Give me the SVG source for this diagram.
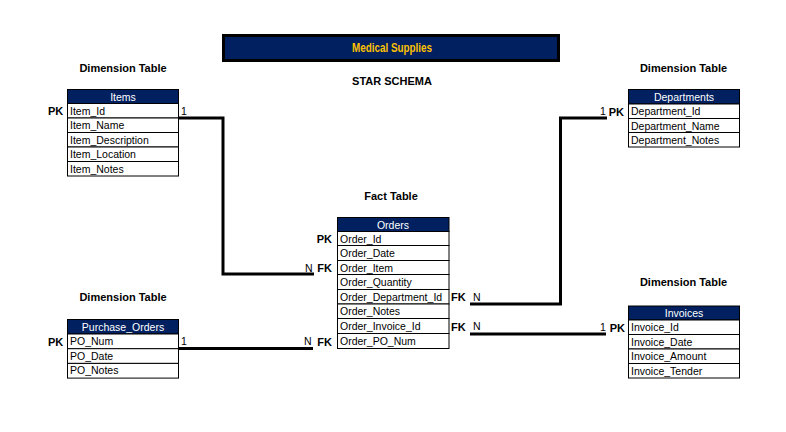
<svg xmlns="http://www.w3.org/2000/svg" width="786" height="432" viewBox="0 0 786 432">
<style>
.bg{fill:#ffffff}
.hdr{fill:#002060;stroke:#000;stroke-width:1}
.cell{fill:#ffffff;stroke:#000;stroke-width:1}
.ht{font-family:"Liberation Sans",Arial,sans-serif;font-size:10.5px;fill:#ffffff;text-anchor:middle}
.ct{font-family:"Liberation Sans",Arial,sans-serif;font-size:10.5px;fill:#000}
.lbl{font-family:"Liberation Sans",Arial,sans-serif;font-size:11px;font-weight:bold;fill:#000}
.n{font-family:"Liberation Sans",Arial,sans-serif;font-size:10.5px;fill:#000}
.cap{font-family:"Liberation Sans",Arial,sans-serif;font-size:11px;font-weight:bold;fill:#000;text-anchor:middle}
.conn{fill:none;stroke:#000;stroke-width:3}
</style>
<rect class="bg" x="0" y="0" width="786" height="432"/>

<g id="title">
<rect x="223.5" y="35.5" width="335" height="25" fill="#002060" stroke="#000" stroke-width="3"/>
<text x="392" y="52" font-family="'Liberation Sans',Arial,sans-serif" font-size="12.5" font-weight="bold" fill="#FFC000" text-anchor="middle" textLength="80" lengthAdjust="spacingAndGlyphs">Medical Supplies</text>
</g>
<text class="cap" x="392" y="85">STAR SCHEMA</text>
<text class="cap" x="123" y="72">Dimension Table</text>
<text class="cap" x="683.5" y="72">Dimension Table</text>
<text class="cap" x="391" y="200">Fact Table</text>
<text class="cap" x="123" y="301">Dimension Table</text>
<text class="cap" x="683.5" y="286">Dimension Table</text>

<g id="connectors">
<path class="conn" d="M178 118 H223 V274 H314"/>
<path class="conn" d="M470 304 H560.5 V118 H607"/>
<path class="conn" d="M470 334 H606"/>
<path class="conn" d="M178 348.5 H313"/>
</g>

<g id="items">
<rect class="hdr" x="67.5" y="89.5" width="111" height="14"/>
<text class="ht" x="123" y="100.5">Items</text>
<rect class="cell" x="67.5" y="103.5" width="111" height="14.5"/>
<rect class="cell" x="67.5" y="118" width="111" height="14.5"/>
<rect class="cell" x="67.5" y="132.5" width="111" height="14.5"/>
<rect class="cell" x="67.5" y="147" width="111" height="14.5"/>
<rect class="cell" x="67.5" y="161.5" width="111" height="14.5"/>
<text class="ct" x="70" y="114.5">Item_Id</text>
<text class="ct" x="70" y="129">Item_Name</text>
<text class="ct" x="70" y="143.5">Item_Description</text>
<text class="ct" x="70" y="158">Item_Location</text>
<text class="ct" x="70" y="172.5">Item_Notes</text>
<text class="lbl" x="48" y="115">PK</text>
<text class="n" x="181" y="114.5">1</text>
</g>

<g id="orders">
<rect class="hdr" x="337.5" y="217.5" width="111.5" height="14"/>
<text class="ht" x="393" y="228.5">Orders</text>
<rect class="cell" x="337.5" y="231.5" width="111.5" height="14"/>
<rect class="cell" x="337.5" y="245.5" width="111.5" height="15"/>
<rect class="cell" x="337.5" y="260.5" width="111.5" height="14"/>
<rect class="cell" x="337.5" y="274.5" width="111.5" height="15"/>
<rect class="cell" x="337.5" y="289.5" width="111.5" height="14.5"/>
<rect class="cell" x="337.5" y="304" width="111.5" height="14.5"/>
<rect class="cell" x="337.5" y="318.5" width="111.5" height="15"/>
<rect class="cell" x="337.5" y="333.5" width="111.5" height="15"/>
<text class="ct" x="340" y="242.5">Order_Id</text>
<text class="ct" x="340" y="257">Order_Date</text>
<text class="ct" x="340" y="271.5">Order_Item</text>
<text class="ct" x="340" y="286">Order_Quantity</text>
<text class="ct" x="340" y="300.5">Order_Department_Id</text>
<text class="ct" x="340" y="315">Order_Notes</text>
<text class="ct" x="340" y="330">Order_Invoice_Id</text>
<text class="ct" x="340" y="345">Order_PO_Num</text>
<text class="lbl" x="332" y="243" text-anchor="end">PK</text>
<text class="lbl" x="332" y="272" text-anchor="end">FK</text>
<text class="n" x="305" y="271.5">N</text>
<text class="lbl" x="332" y="345.5" text-anchor="end">FK</text>
<text class="n" x="304" y="345">N</text>
<text class="lbl" x="451" y="301">FK</text>
<text class="n" x="473" y="300.5">N</text>
<text class="lbl" x="451" y="330.5">FK</text>
<text class="n" x="473" y="330">N</text>
</g>

<g id="departments">
<rect class="hdr" x="628.5" y="89.5" width="111" height="14.5"/>
<text class="ht" x="684" y="100.5">Departments</text>
<rect class="cell" x="628.5" y="104" width="111" height="14.5"/>
<rect class="cell" x="628.5" y="118.5" width="111" height="14"/>
<rect class="cell" x="628.5" y="132.5" width="111" height="14.5"/>
<text class="ct" x="631" y="115">Department_Id</text>
<text class="ct" x="631" y="129.5">Department_Name</text>
<text class="ct" x="631" y="143.5">Department_Notes</text>
<text class="lbl" x="624" y="115.5" text-anchor="end">PK</text>
<text class="n" x="600" y="115">1</text>
</g>

<g id="invoices">
<rect class="hdr" x="628.5" y="306" width="111" height="14"/>
<text class="ht" x="684" y="317">Invoices</text>
<rect class="cell" x="628.5" y="320" width="111" height="14.5"/>
<rect class="cell" x="628.5" y="334.5" width="111" height="14.5"/>
<rect class="cell" x="628.5" y="349" width="111" height="14.5"/>
<rect class="cell" x="628.5" y="363.5" width="111" height="14.5"/>
<text class="ct" x="631" y="331">Invoice_Id</text>
<text class="ct" x="631" y="345.5">Invoice_Date</text>
<text class="ct" x="631" y="360">Invoice_Amount</text>
<text class="ct" x="631" y="374.5">Invoice_Tender</text>
<text class="lbl" x="625" y="331.5" text-anchor="end">PK</text>
<text class="n" x="600" y="331">1</text>
</g>

<g id="purchase_orders">
<rect class="hdr" x="67.5" y="319.5" width="111" height="14.5"/>
<text class="ht" x="123" y="330.5">Purchase_Orders</text>
<rect class="cell" x="67.5" y="334" width="111" height="14.7"/>
<rect class="cell" x="67.5" y="348.7" width="111" height="14.7"/>
<rect class="cell" x="67.5" y="363.4" width="111" height="14.7"/>
<text class="ct" x="70" y="345">PO_Num</text>
<text class="ct" x="70" y="359.7">PO_Date</text>
<text class="ct" x="70" y="374.4">PO_Notes</text>
<text class="lbl" x="48" y="345.5">PK</text>
<text class="n" x="181" y="345">1</text>
</g>
</svg>
